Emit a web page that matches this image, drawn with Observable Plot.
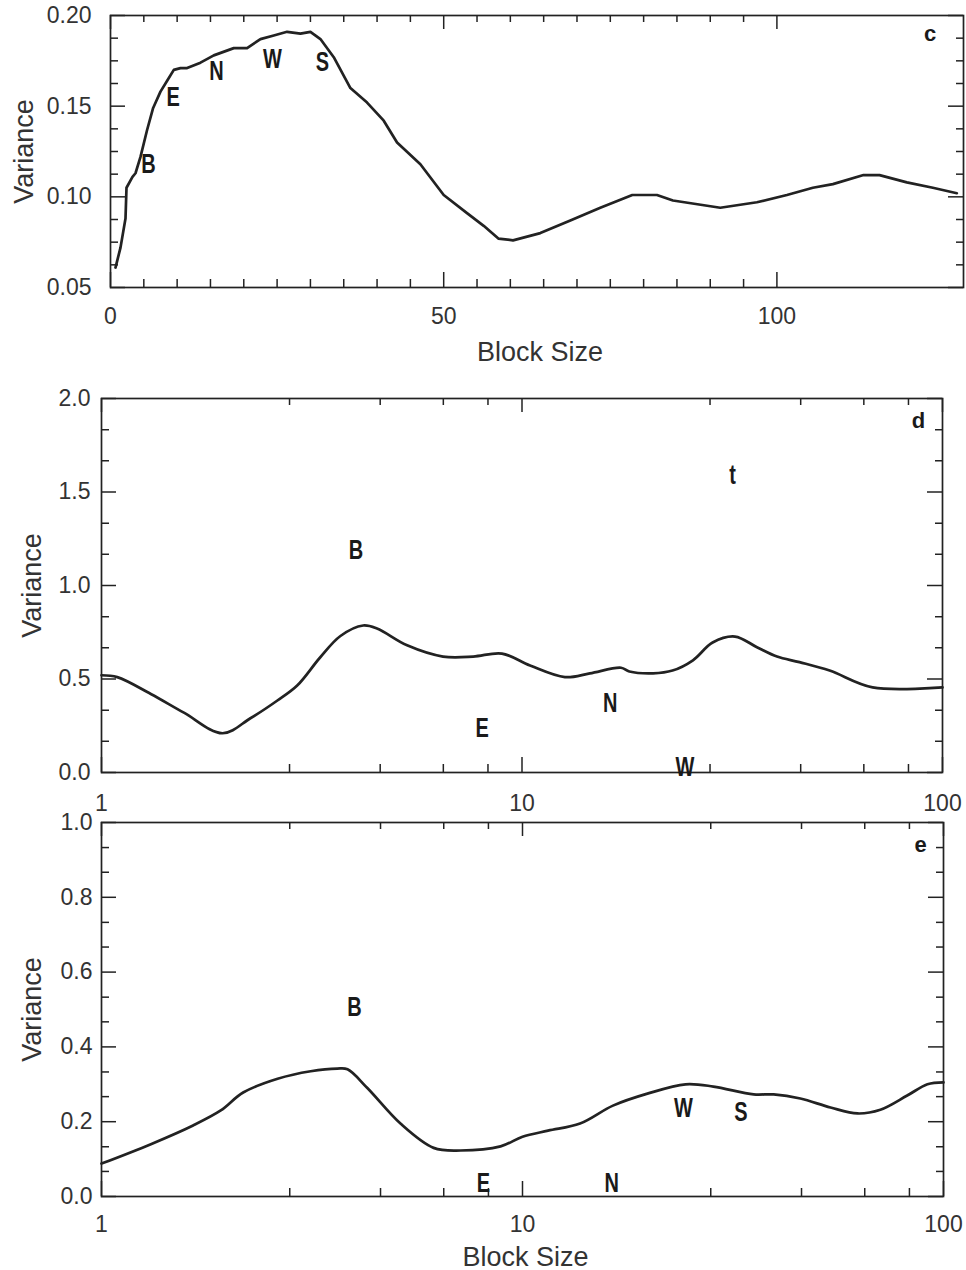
<!DOCTYPE html>
<html>
<head>
<meta charset="utf-8">
<script src="https://cdn.jsdelivr.net/npm/d3@7"></script>
<script src="https://cdn.jsdelivr.net/npm/@observablehq/plot@0.6"></script>
<style>
  html, body { margin: 0; padding: 0; background: #fff; }
  #chart { width: 966px; height: 1270px; }
  #chart svg { display: block; overflow: visible; }
</style>
</head>
<body>
<div id="chart"></div>
<script>
// ---------- Panel c (linear x) ----------
const cBlock = [0.75,1.5,2.25,2.4,3.3,3.75,4.5,5.5,6.4,7.5,8.5,9.5,10.5,11.5,13.5,15.5,18.5,20.5,22.5,24.5,26.5,28.5,30,31.5,33.5,36,38.5,41,43,46.5,50,53.5,56,58.2,60.4,64.5,69,73.5,78.3,82,84.4,91.5,97,101.5,105.4,108.4,113,115.4,119.5,123.4,127];
const cVar = [0.061,0.072,0.088,0.105,0.111,0.113,0.122,0.137,0.149,0.158,0.164,0.170,0.171,0.171,0.174,0.178,0.182,0.182,0.187,0.189,0.191,0.190,0.191,0.187,0.177,0.160,0.152,0.142,0.130,0.118,0.101,0.091,0.084,0.077,0.076,0.080,0.087,0.094,0.101,0.101,0.098,0.094,0.097,0.101,0.105,0.107,0.112,0.112,0.108,0.105,0.102];
const cLetters = ["B","E","N","W","S"];
const cLetterX = [5.7, 9.4, 15.9, 24.3, 31.8];
const cLetterY = [0.118, 0.155, 0.169, 0.176, 0.174];
const cXMajor = [0, 50, 100];
const cXMinor = [5,10,15,20,25,30,35,40,45,55,60,65,70,75,80,85,90,95];
const cYMajor = [0.05, 0.10, 0.15, 0.20];
const cYMinor = [0.0625,0.075,0.0875,0.1125,0.125,0.1375,0.1625,0.175,0.1875];
const cXLabels = ["0","50","100"];
const cYLabels = ["0.05","0.10","0.15","0.20"];

// ---------- Panel d (log x) ----------
const dBlock = [1.0,1.09,1.31,1.57,1.94,2.26,2.62,2.92,3.31,3.70,4.19,4.52,5.33,6.49,7.65,8.96,10.45,12.65,14.5,17.2,18.0,20.5,22.8,25.5,28.4,32.1,36.2,40.4,45.7,53.9,68.2,100];
const dVar = [0.52,0.51,0.42,0.32,0.21,0.29,0.385,0.465,0.615,0.73,0.786,0.77,0.68,0.62,0.62,0.636,0.572,0.51,0.53,0.56,0.54,0.53,0.545,0.60,0.695,0.727,0.67,0.62,0.59,0.545,0.455,0.455];
const dLetters = ["B","t","E","N","W"];
const dLetterX = [4.03, 31.7, 8.04, 16.2, 24.4];
const dLetterY = [1.19, 1.59, 0.235, 0.37, 0.03];
const dYMajor = [0, 0.5, 1.0, 1.5, 2.0];
const dYMinor = [0.167,0.333,0.667,0.833,1.167,1.333,1.667,1.833];
const dYLabels = ["0.0","0.5","1.0","1.5","2.0"];

// ---------- Panel e (log x) ----------
const eBlock = [1.0,1.31,1.65,1.92,2.17,2.62,3.14,3.63,3.84,4.28,5.13,6.15,7.13,8.87,10,11.5,13.7,16.4,19.8,24.4,28.4,35.4,39.5,45.7,53.9,62.5,70.8,82,91.6,100];
const eVar = [0.088,0.14,0.19,0.23,0.278,0.315,0.335,0.342,0.34,0.29,0.195,0.13,0.123,0.134,0.16,0.176,0.195,0.243,0.275,0.30,0.294,0.273,0.273,0.262,0.238,0.222,0.232,0.27,0.30,0.305];
const eLetters = ["B","E","N","W","S"];
const eLetterX = [3.99, 8.08, 16.3, 24.1, 33.0];
const eLetterY = [0.505, 0.035, 0.035, 0.235, 0.225];
const eYMajor = [0, 0.2, 0.4, 0.6, 0.8, 1.0];
const eYMinor = [0.067,0.133,0.267,0.333,0.467,0.533,0.667,0.733,0.867,0.933];
const eYLabels = ["0.0","0.2","0.4","0.6","0.8","1.0"];

// shared log axis
const logXMajor = [1, 10, 100];
const logXMinor = [2.8, 4.6, 6.5, 8.3, 28, 46, 65, 83];
const logXLabels = ["1","10","100"];

const panelNames = ["c","d","e"];
const panelLabelX = [123, 87.7, 88.2];
const panelLabelY = [0.190, 1.88, 0.94];

const INK = "#222";
const SANS = "Liberation Sans, Arial, Helvetica, sans-serif";

function panel(o) {
  const fh = o.height - o.mT - o.mB;
  const fw = o.width - o.mL - o.mR;
  const line = o.xs.map((x, i) => ({x, y: o.ys[i]}));
  const letters = o.letters.map((t, i) => ({t, x: o.lx[i], y: o.ly[i]}));
  const xLab = o.xMajor.map((v, i) => ({v, t: o.xLabels[i]}));
  const yLab = o.yMajor.map((v, i) => ({v, t: o.yLabels[i]}));
  const tk = {stroke: INK, strokeWidth: 1.5};
  return Plot.plot({
    width: o.width, height: o.height,
    marginLeft: o.mL, marginRight: o.mR, marginTop: o.mT, marginBottom: o.mB,
    style: {fontFamily: SANS, background: "white", overflow: "visible"},
    x: {type: o.xType, domain: o.xDomain, axis: null},
    y: {domain: o.yDomain, axis: null},
    marks: [
      // inward ticks: bottom / top
      Plot.tickX(o.xMinor, {x: d => d, insetTop: fh - 8, ...tk}),
      Plot.tickX(o.xMajor, {x: d => d, insetTop: fh - 15, ...tk}),
      Plot.tickX(o.xMinor, {x: d => d, insetBottom: fh - 7, ...tk}),
      Plot.tickX(o.xMajor, {x: d => d, insetBottom: fh - 14, ...tk}),
      // inward ticks: left / right
      Plot.tickY(o.yMinor, {y: d => d, insetRight: fw - 8, ...tk}),
      Plot.tickY(o.yMajor, {y: d => d, insetRight: fw - 15, ...tk}),
      Plot.tickY(o.yMinor, {y: d => d, insetLeft: fw - 7, ...tk}),
      Plot.tickY(o.yMajor, {y: d => d, insetLeft: fw - 15, ...tk}),
      Plot.frame({stroke: INK, strokeWidth: 1.7}),
      // tick labels
      Plot.text(xLab, {x: "v", text: "t", frameAnchor: "bottom", dy: o.xLabDy, fontSize: 23, fill: "#333", lineAnchor: "middle", textAnchor: "middle"}),
      Plot.text(yLab, {y: "v", text: "t", frameAnchor: "left", dx: o.yLabDx, textAnchor: "end", fontSize: 23, fill: "#333"}),
      // axis titles
      Plot.text(["Variance"], {frameAnchor: "left", dx: o.yTitleDx, rotate: -90, textAnchor: "middle", lineAnchor: "middle", fontSize: 27, fill: "#333"}),
      ...(o.xTitle ? [Plot.text(["Block Size"], {frameAnchor: "bottom", dy: o.xTitleDy, dx: 3, textAnchor: "middle", lineAnchor: "middle", fontSize: 27, fill: "#333"})] : []),
      // data curve
      Plot.line(line, {x: "x", y: "y", stroke: INK, strokeWidth: 2.7, curve: o.curve, strokeLinejoin: "round"}),
      // station letters (condensed afterwards)
      Plot.text(letters, {x: "x", y: "y", text: "t", fontFamily: SANS, fontWeight: "bold", fontSize: 27, fill: "#1a1a1a", textAnchor: "middle", className: "stn"}),
      // panel letter
      Plot.text([o.name], {x: () => o.px, y: () => o.py, fontWeight: "bold", fontSize: 22, fill: "#1a1a1a"})
    ]
  });
}

const root = document.getElementById("chart");

root.append(panel({
  width: 966, height: 370, mL: 110, mR: 3, mT: 15, mB: 83,
  xType: "linear", xDomain: [0, 128], yDomain: [0.05, 0.20],
  xs: cBlock, ys: cVar, curve: "linear",
  letters: cLetters, lx: cLetterX, ly: cLetterY,
  xMajor: cXMajor, xMinor: cXMinor, yMajor: cYMajor, yMinor: cYMinor,
  xLabels: cXLabels, yLabels: cYLabels,
  xLabDy: 29, yLabDx: -19, yTitleDx: -86, xTitle: true, xTitleDy: 65,
  name: panelNames[0], px: panelLabelX[0], py: panelLabelY[0]
}));

root.append(panel({
  width: 966, height: 442, mL: 101, mR: 24, mT: 28, mB: 40,
  xType: "log", xDomain: [1, 100], yDomain: [0, 2.0],
  xs: dBlock, ys: dVar, curve: "catmull-rom",
  letters: dLetters, lx: dLetterX, ly: dLetterY,
  xMajor: logXMajor, xMinor: logXMinor, yMajor: dYMajor, yMinor: dYMinor,
  xLabels: logXLabels, yLabels: dYLabels,
  xLabDy: 31, yLabDx: -11, yTitleDx: -69, xTitle: false,
  name: panelNames[1], px: panelLabelX[1], py: panelLabelY[1]
}));

root.append(panel({
  width: 966, height: 458, mL: 101, mR: 23, mT: 10, mB: 74,
  xType: "log", xDomain: [1, 100], yDomain: [0, 1.0],
  xs: eBlock, ys: eVar, curve: "catmull-rom",
  letters: eLetters, lx: eLetterX, ly: eLetterY,
  xMajor: logXMajor, xMinor: logXMinor, yMajor: eYMajor, yMinor: eYMinor,
  xLabels: logXLabels, yLabels: eYLabels,
  xLabDy: 28, yLabDx: -9, yTitleDx: -69, xTitle: true, xTitleDy: 61,
  name: panelNames[2], px: panelLabelX[2], py: panelLabelY[2]
}));

// condensed look for the station letters: squeeze glyphs horizontally in place
root.querySelectorAll(".stn text").forEach(t => {
  const w = t.getComputedTextLength();
  if (w > 0) {
    t.setAttribute("lengthAdjust", "spacingAndGlyphs");
    t.setAttribute("textLength", (w * 0.74).toFixed(2));
  }
});
</script>
</body>
</html>
